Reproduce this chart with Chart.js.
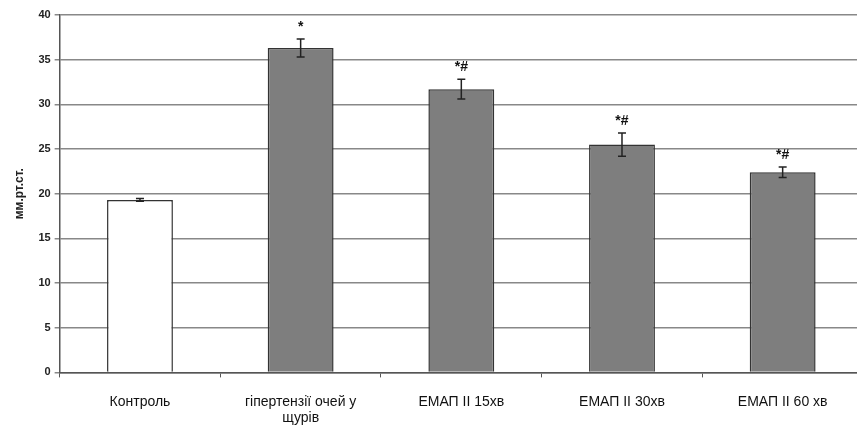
<!DOCTYPE html>
<html><head><meta charset="utf-8">
<script src="https://cdn.jsdelivr.net/npm/chart.js@4/dist/chart.umd.min.js"></script>
<style>html,body{margin:0;padding:0;overflow:hidden;background:#fff;width:857px;height:435px}#wrap{position:absolute;left:0;top:0;width:863px;height:435px}</style>
</head><body><div id="wrap"><canvas id="c" width="863" height="435"></canvas></div>
<script>
const categories = ['Контроль', ['гіпертензії очей у', 'щурів'], 'ЕМАП ІІ 15хв', 'ЕМАП ІІ 30хв', 'ЕМАП ІІ 60 хв'];
const means = [19.3, 36.3, 31.7, 25.5, 22.4];
const errors = [0.15, 1.0, 1.1, 1.3, 0.6];
const marks = ['', '*', '*#', '*#', '*#'];
const yTicks = [0, 5, 10, 15, 20, 25, 30, 35, 40];
const barFill = ['#ffffff', '#7e7e7e', '#7e7e7e', '#7e7e7e', '#7e7e7e'];

const errPlugin = {
  id: 'err',
  afterDatasetsDraw(chart) {
    const ctx = chart.ctx, x = chart.scales.x, y = chart.scales.y;
    ctx.save();
    ctx.strokeStyle = '#222'; ctx.lineWidth = 1.5;
    means.forEach((m, i) => {
      const cx = x.getPixelForValue(i);
      const t = y.getPixelForValue(m + errors[i]), b = y.getPixelForValue(m - errors[i]);
      ctx.beginPath();
      ctx.moveTo(cx, t); ctx.lineTo(cx, b);
      ctx.moveTo(cx - 4, t); ctx.lineTo(cx + 4, t);
      ctx.moveTo(cx - 4, b); ctx.lineTo(cx + 4, b);
      ctx.stroke();
      if (marks[i]) {
        ctx.fillStyle = '#111';
        ctx.font = 'bold 14px "Liberation Sans", Arial, sans-serif';
        ctx.textAlign = 'center'; ctx.textBaseline = 'bottom';
        ctx.fillText(marks[i], cx, t - 5);
      }
    });
    ctx.restore();
  }
};

new Chart(document.getElementById('c'), {
  type: 'bar',
  data: {
    labels: categories,
    datasets: [{
      data: means,
      backgroundColor: barFill,
      borderColor: '#333',
      borderWidth: 1.5,
      barPercentage: 0.41,
      categoryPercentage: 1.0
    }]
  },
  options: {
    responsive: false,
    animation: false,
    layout: { padding: { left: 8, right: 0, top: 15, bottom: -8 } },
    plugins: { legend: { display: false }, tooltip: { enabled: false } },
    scales: {
      x: {
        grid: { display: true, drawOnChartArea: false, offset: true, tickLength: 5, color: '#555' },
        border: { display: true, color: '#555', width: 1.5 },
        ticks: { color: '#111', font: { family: '"Liberation Sans", Arial, sans-serif', size: 14 }, padding: 16, maxRotation: 0, autoSkip: false }
      },
      y: {
        min: 0, max: 40,
        afterBuildTicks: (s) => { s.ticks = yTicks.map(v => ({ value: v })); },
        grid: { color: '#888', lineWidth: 1.5, tickLength: 5 },
        border: { display: true, color: '#555', width: 1.5 },
        ticks: { color: '#222', font: { family: '"Liberation Sans", Arial, sans-serif', size: 11, weight: 'bold' }, padding: 4 },
        title: { display: true, text: 'мм.рт.ст.', color: '#222', font: { family: '"Liberation Sans", Arial, sans-serif', size: 12, weight: 'bold' }, padding: { bottom: 8 } }
      }
    }
  },
  plugins: [errPlugin]
});
</script></body></html>
